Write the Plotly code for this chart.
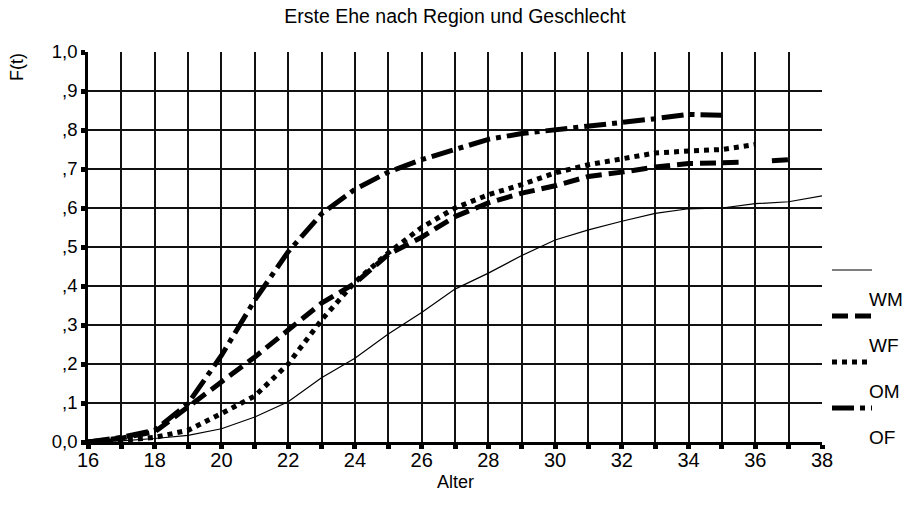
import plotly.graph_objects as go

# Cumulative share married, F(t), by age, region and sex
ages = list(range(16, 39))

wm = [0.000, 0.003, 0.009, 0.017, 0.034, 0.064, 0.103, 0.165, 0.215, 0.277,
      0.332, 0.392, 0.433, 0.478, 0.518, 0.544, 0.566, 0.586, 0.598, 0.600,
      0.611, 0.616, 0.631]

# WF has no estimate around age 36, so the line breaks there
wf_ages = list(range(16, 36)) + [35.5, 36.0, 36.5, 37]
wf = [0.000, 0.010, 0.026, 0.090, 0.150, 0.218, 0.287, 0.356, 0.407, 0.481,
      0.525, 0.578, 0.613, 0.638, 0.657, 0.681, 0.692, 0.705, 0.714, 0.716,
      0.717, None, 0.721, 0.724]

om_ages = list(range(16, 37))
om = [0.000, 0.004, 0.012, 0.030, 0.073, 0.118, 0.200, 0.313, 0.410, 0.485,
      0.550, 0.600, 0.634, 0.660, 0.690, 0.711, 0.726, 0.741, 0.746, 0.750,
      0.763]

of_ages = list(range(16, 36))
of = [0.000, 0.012, 0.030, 0.099, 0.222, 0.364, 0.488, 0.585, 0.648, 0.692,
      0.724, 0.750, 0.776, 0.791, 0.800, 0.812, 0.821, 0.829, 0.840, 0.838]

x_tickvals = list(range(16, 39, 2))
y_tickvals = [round(v * 0.1, 1) for v in range(0, 11)]
y_ticktext = ["0,0", ",1", ",2", ",3", ",4", ",5", ",6", ",7", ",8", ",9", "1,0"]

series_names = ["WM", "WF", "OM", "OF"]
FONT = "Liberation Sans, Arial, sans-serif"

W, H = 910, 514
M_L, M_R, M_T, M_B = 88, 88, 52, 72
PW, PH = W - M_L - M_R, H - M_T - M_B


def px_x(px):
    return (px - M_L) / PW


def px_y(py):
    return (H - M_B - py) / PH


styles = [
    dict(color="black", width=1.2, dash="solid"),
    dict(color="black", width=5, dash="16px,7px"),
    dict(color="black", width=5, dash="5px,5px"),
    dict(color="black", width=5, dash="22px,6px,5px,6px"),
]

fig = go.Figure()
for name, xs, ys, st in zip(series_names,
                            [ages, wf_ages, om_ages, of_ages],
                            [wm, wf, om, of], styles):
    fig.add_trace(go.Scatter(x=xs, y=ys, mode="lines", name=name,
                             line=st, connectgaps=False, showlegend=False))

# Legend: sample line with its label set below it
shapes = []
annotations = []
for i, (name, st) in enumerate(zip(series_names, styles)):
    ly = 270 + i * 46
    shapes.append(dict(type="line", xref="paper", yref="paper",
                       x0=px_x(832), x1=px_x(872), y0=px_y(ly), y1=px_y(ly),
                       line=st))
    annotations.append(dict(text=name, xref="paper", yref="paper",
                            x=px_x(867), y=px_y(ly + 29), xanchor="left",
                            yanchor="middle", showarrow=False,
                            font=dict(family=FONT, size=19, color="black")))

annotations.append(dict(text="F(t)", xref="paper", yref="paper",
                        x=px_x(17), y=px_y(67), textangle=-90,
                        xanchor="center", yanchor="middle", showarrow=False,
                        font=dict(family=FONT, size=18, color="black")))
annotations.append(dict(text="Alter", xref="paper", yref="paper",
                        x=0.5, y=px_y(482), xanchor="center",
                        yanchor="middle", showarrow=False,
                        font=dict(family=FONT, size=18, color="black")))

fig.update_layout(
    width=W, height=H,
    margin=dict(l=M_L, r=M_R, t=M_T, b=M_B),
    paper_bgcolor="white", plot_bgcolor="white",
    title=dict(text="Erste Ehe nach Region und Geschlecht", x=0.5,
               xanchor="center", y=1 - 16 / H, yanchor="middle",
               font=dict(family=FONT, size=19.5, color="black")),
    shapes=shapes, annotations=annotations,
    xaxis=dict(range=[16, 38], tickvals=x_tickvals,
               ticks="outside", ticklen=4, tickwidth=5, tickcolor="black",
               ticklabelstandoff=-6,
               showline=True, linecolor="black", linewidth=2.5,
               showgrid=True, gridcolor="#111", gridwidth=1.5,
               zeroline=False,
               minor=dict(dtick=1, ticks="outside", ticklen=4, tickwidth=5,
                          tickcolor="black", showgrid=True,
                          gridcolor="#111", gridwidth=1.5),
               tickfont=dict(family=FONT, size=20, color="black")),
    yaxis=dict(range=[0, 1], tickvals=y_tickvals, ticktext=y_ticktext,
               ticks="outside", ticklen=4, tickwidth=5, tickcolor="black",
               showline=True, linecolor="black", linewidth=2.5,
               showgrid=True, gridcolor="#111", gridwidth=1.5,
               zeroline=False,
               tickfont=dict(family=FONT, size=18.5, color="black")),
)

fig.write_html("out.html")
